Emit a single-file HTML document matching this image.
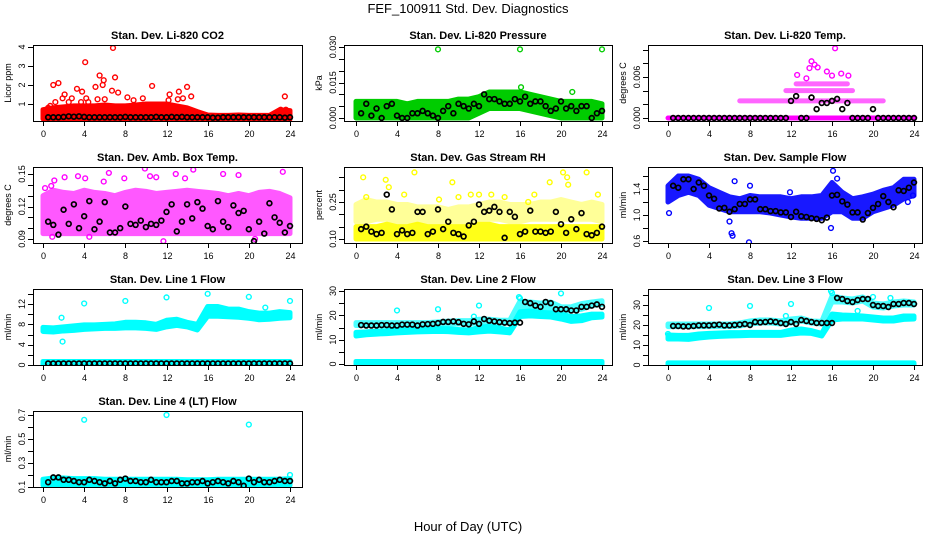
<!DOCTYPE html>
<html><head><meta charset="utf-8"><title>FEF_100911 Std. Dev. Diagnostics</title>
<style>
html,body{margin:0;padding:0;background:#fff;}
svg{display:block;font-family:"Liberation Sans",Arial,sans-serif;}
</style></head>
<body>
<svg id="chart" width="936" height="540" viewBox="0 0 936 540" xmlns="http://www.w3.org/2000/svg">
<text x="468" y="13" text-anchor="middle" font-size="13">FEF_100911  Std. Dev. Diagnostics</text>
<text x="468" y="531" text-anchor="middle" font-size="13">Hour of Day (UTC)</text>
</svg>
<script>
// ---- shared data ----
const hours = [0,1,2,3,4,5,6,7,8,9,10,11,12,13,14,15,16,17,18,19,20,21,22,23,24];
const halfHours = [0.5,1,1.5,2,2.5,3,3.5,4,4.5,5,5.5,6,6.5,7,7.5,8,8.5,9,9.5,10,10.5,11,11.5,12,12.5,13,13.5,14,14.5,15,15.5,16,16.5,17,17.5,18,18.5,19,19.5,20,20.5,21,21.5,22,22.5,23,23.5,24];
const xTicks = [0,4,8,12,16,20,24];

// CO2
const co2BandLo = [0.22,0.22,0.22,0.22,0.22,0.22,0.22,0.22,0.22,0.22,0.22,0.22,0.22,0.22,0.22,0.22,0.2,0.2,0.2,0.2,0.2,0.2,0.2,0.2,0.2];
const co2BandHi = [0.7,0.8,0.85,0.9,0.9,0.9,0.95,0.9,0.9,0.95,1.0,1.0,1.0,0.9,0.8,0.6,0.42,0.4,0.4,0.42,0.4,0.4,0.4,0.7,0.65];
const co2OutX = [0.5,0.7,1,1.2,1.5,1.9,2.1,2.5,2.8,3.3,3.7,3.8,4.1,4.2,4.4,5.1,5.3,5.5,5.8,5.9,6.0,6.7,6.8,7.0,7.3,8.2,8.8,9.7,10.6,12.3,12.2,13.2,13.1,13.6,14.0,14.4,23.1,23.5,23.6];
const co2OutY = [0.8,0.9,2.0,1.1,2.1,1.3,1.5,1.1,1.3,1.8,1.1,1.65,3.2,1.3,1.1,1.9,1.25,2.5,2.0,2.25,1.25,1.7,3.95,2.4,1.6,1.35,1.2,1.3,1.95,1.5,1.2,1.65,1.25,1.3,1.9,1.4,0.7,1.4,0.7];
const co2Black = [0.3,0.3,0.3,0.32,0.35,0.33,0.35,0.32,0.3,0.3,0.3,0.3,0.3,0.3,0.3,0.32,0.3,0.3,0.3,0.3,0.3,0.32,0.3,0.3,0.32,0.3,0.32,0.3,0.3,0.3,0.3,0.3,0.28,0.28,0.3,0.3,0.3,0.3,0.3,0.3,0.3,0.3,0.3,0.3,0.3,0.3,0.28,0.3];

// Pressure
const presBandLo = [0,0,0,0,0,0,0,0,0,0,0,0,0.002,0.004,0.004,0.004,0.004,0.003,0.002,0.001,0,0,0,0,0];
const presBandHi = [0.007,0.007,0.007,0.007,0.007,0.006,0.007,0.007,0.007,0.007,0.008,0.008,0.009,0.011,0.011,0.011,0.011,0.01,0.009,0.008,0.007,0.007,0.007,0.007,0.006];
const presOutX = [8,16,24,16.1,21.1];
const presOutY = [0.029,0.029,0.029,0.013,0.011];
const presBlack = [0.002,0.006,0.001,0.004,0.000,0.005,0.006,0.001,0.000,0.000,0.002,0.002,0.003,0.002,0.001,0.000,0.003,0.005,0.002,0.006,0.005,0.004,0.006,0.005,0.010,0.008,0.008,0.007,0.006,0.006,0.008,0.007,0.009,0.006,0.007,0.007,0.005,0.003,0.004,0.007,0.004,0.005,0.003,0.005,0.005,0.000,0.002,0.003];

// Li-820 temp (quantized levels)
const tempLevels = [0,0.0025,0.004,0.005];
const tempStart = [0,7,11.5,12.5];
const tempEnd = [24,21,18,17.5];
const tempOutX = [12.6,13.8,14.0,14.3,15.5,16.3,16.0,16.9,13.5,14.6,17.6];
const tempOutY = [0.0063,0.0073,0.0083,0.0078,0.0068,0.0102,0.0062,0.0065,0.0058,0.0074,0.0062];
const tempBlack = [0,0,0,0,0,0,0,0,0,0,0,0,0,0,0,0,0,0,0,0,0,0,0,0.0025,0.0032,0,0,0.003,0.0013,0.0022,0.0022,0.0025,0.0028,0.0013,0.0022,0,0,0,0,0.0013,0,0,0,0,0,0,0,0];

// Amb box temp
const ambBandLo = [0.095,0.095,0.095,0.095,0.095,0.095,0.095,0.095,0.095,0.095,0.095,0.095,0.095,0.095,0.095,0.095,0.095,0.095,0.095,0.095,0.095,0.095,0.095,0.095,0.095];
const ambBandHi = [0.13,0.135,0.133,0.132,0.135,0.133,0.132,0.13,0.133,0.135,0.134,0.132,0.133,0.134,0.135,0.134,0.133,0.132,0.13,0.132,0.13,0.133,0.134,0.132,0.128];
const ambOutX = [0.2,0.8,1.1,2.1,3.4,4.1,5.9,6.4,7.9,9.9,10.4,11.0,11.7,12.9,13.8,14.6,17.5,19.0,23.3,0.9,4.5,20.6];
const ambOutY = [0.137,0.139,0.144,0.147,0.148,0.146,0.143,0.151,0.146,0.155,0.148,0.147,0.088,0.15,0.146,0.154,0.15,0.149,0.152,0.092,0.092,0.09];
const ambBlack = [0.106,0.103,0.094,0.117,0.104,0.122,0.10,0.111,0.125,0.099,0.106,0.124,0.096,0.096,0.10,0.12,0.104,0.103,0.107,0.101,0.104,0.103,0.107,0.115,0.122,0.097,0.106,0.122,0.109,0.124,0.118,0.102,0.099,0.125,0.106,0.101,0.121,0.114,0.116,0.099,0.088,0.106,0.095,0.123,0.110,0.105,0.096,0.102];

// Gas stream RH
const rhBandLo = [0.1,0.1,0.1,0.1,0.1,0.1,0.1,0.1,0.1,0.1,0.1,0.1,0.1,0.1,0.1,0.1,0.1,0.1,0.1,0.1,0.1,0.1,0.1,0.1,0.1];
const rhBandHi = [0.15,0.15,0.15,0.16,0.15,0.15,0.16,0.15,0.15,0.15,0.15,0.15,0.16,0.16,0.15,0.15,0.15,0.15,0.15,0.15,0.15,0.15,0.15,0.15,0.15];
const rhSparseLo = [0.17,0.17,0.18,0.18,0.17,0.17,0.17,0.17,0.17,0.17,0.17,0.17,0.18,0.18,0.18,0.17,0.17,0.18,0.18,0.18,0.18,0.18,0.18,0.18,0.17];
const rhSparseHi = [0.24,0.26,0.25,0.25,0.24,0.24,0.23,0.23,0.23,0.22,0.23,0.23,0.24,0.25,0.25,0.24,0.24,0.24,0.25,0.25,0.26,0.25,0.24,0.25,0.24];
const rhOutX = [0.7,2.9,4.7,5.7,9.4,3.2,8.1,10.0,11.2,12.0,13.2,14.5,17.4,18.9,20.2,20.6,20.7,22.5,23.6,1.0,16.8];
const rhOutY = [0.35,0.34,0.28,0.37,0.33,0.31,0.26,0.27,0.28,0.28,0.28,0.27,0.28,0.33,0.37,0.35,0.32,0.37,0.28,0.27,0.25];
const rhBlack = [0.14,0.15,0.13,0.12,0.125,0.28,0.22,0.12,0.135,0.12,0.125,0.21,0.21,0.12,0.13,0.22,0.14,0.17,0.125,0.12,0.11,0.155,0.17,0.24,0.21,0.215,0.23,0.21,0.105,0.21,0.19,0.12,0.13,0.215,0.13,0.13,0.125,0.13,0.21,0.16,0.125,0.18,0.14,0.205,0.12,0.115,0.125,0.15];

// Sample flow
const sampBandLo = [1.2,1.3,1.35,1.3,1.15,1.1,1.05,1.05,1.05,1.05,1.03,1.0,0.97,0.95,0.95,0.95,1.05,1.05,0.95,0.95,1.05,1.1,1.15,1.25,1.3];
const sampBandHi = [1.45,1.6,1.6,1.55,1.42,1.35,1.28,1.25,1.3,1.28,1.28,1.28,1.25,1.28,1.28,1.3,1.5,1.35,1.25,1.28,1.32,1.38,1.42,1.55,1.55];
const sampOutX = [0.1,6.0,6.2,6.3,7.9,8.0,15.9,16.1,16.5,23.4,23.9,6.5,11.9];
const sampOutY = [1.03,0.9,0.72,0.68,0.58,1.45,0.8,1.68,1.56,1.2,1.3,1.52,1.35];
const sampBlack = [1.45,1.42,1.55,1.55,1.4,1.5,1.45,1.3,1.25,1.1,1.11,1.05,1.09,1.17,1.17,1.24,1.24,1.09,1.09,1.06,1.06,1.04,1.04,0.97,1.05,0.98,0.97,0.95,0.94,0.92,0.96,1.3,1.31,1.21,1.16,1.04,1.04,0.93,1.03,1.11,1.17,1.29,1.2,1.12,1.38,1.37,1.42,1.5];

// Line 1
const l1BandLo = [6.6,6.5,6.7,6.8,7.0,7.1,7.2,7.2,7.3,7.3,7.2,7.0,7.5,7.8,7.5,6.9,9.6,9.6,9.5,9.4,9.2,8.9,9.0,9.2,9.3];
const l1BandHi = [7.4,7.3,7.5,7.7,7.9,7.9,8.0,8.1,8.4,8.4,8.3,8.0,8.8,9.0,8.4,8.0,11.5,11.5,11.0,11.0,10.5,10.2,10.2,10.5,10.3];
const l1OutX = [1.8,1.9,4,8,12,16,20,24,21.6];
const l1OutY = [9.3,4.6,12.1,12.6,13.3,14.0,13.4,12.6,11.3];
const l1Black = [0.3,0.3,0.3,0.3,0.3,0.3,0.3,0.3,0.3,0.3,0.3,0.3,0.3,0.3,0.3,0.3,0.3,0.3,0.3,0.3,0.3,0.3,0.3,0.3,0.3,0.3,0.3,0.3,0.3,0.3,0.3,0.3,0.3,0.3,0.3,0.3,0.3,0.3,0.3,0.3,0.3,0.3,0.3,0.3,0.3,0.3,0.3,0.3];
const zeroLo = [0,0,0,0,0,0,0,0,0,0,0,0,0,0,0,0,0,0,0,0,0,0,0,0,0];
const zeroHi = [0.7,0.7,0.7,0.7,0.7,0.7,0.7,0.7,0.7,0.7,0.7,0.7,0.7,0.7,0.7,0.7,0.7,0.7,0.7,0.7,0.7,0.7,0.7,0.7,0.7];

// Line 2
const l2BandLo = [11.5,12.0,12.3,12.5,12.8,13.0,13.2,13.3,13.4,13.3,13.0,12.8,13.2,13.5,13.2,12.8,19.5,19.8,19.5,19.3,18.5,17.5,17.8,19.0,19.3];
const l2BandHi = [13.0,13.2,13.5,13.7,14.0,14.2,14.3,14.5,14.6,14.5,14.2,14.0,15.0,15.5,14.8,14.0,21.5,21.8,21.2,21.0,20.5,19.5,19.8,20.5,20.5];
const l2UpLo = [15.8,15.8,15.8,15.8,15.8,15.8,15.8,15.8,16,16.3,16.5,16.5,17.0,17.0,16.8,16.8,23.5,23.5,22.8,23.0,22.0,22.0,22.5,24.0,24.5];
const l2UpHi = [17.0,17.0,17.0,17.0,17.0,17.0,17.0,17.0,17.3,17.6,17.8,17.8,18.4,18.4,18.0,18.0,25.8,25.5,25.0,25.5,23.5,23.5,24.8,25.5,26.0];
const l2OutX = [4,8,12,16,20,11.5,15.9];
const l2OutY = [22,22.5,24,27,29,19.5,27.5];
const l2Black = [16,15.8,15.8,15.8,16,16,15.8,15.8,16.2,16.2,16.2,15.8,16.3,16.4,16.5,16.8,17.3,17.3,17.5,17.2,16.5,16.3,17.5,16.5,18.5,17.8,17.5,17.2,17.0,16.8,17.0,17.0,25.5,25,24,23.5,25.5,25,22.5,22.5,22.5,22,22,23.5,23.5,24,24.5,23.5];

// Line 3
const l3BandLo = [13.0,13.0,12.8,13.5,14.0,14.3,14.5,14.6,14.8,14.8,14.8,14.8,15.5,16.0,15.8,14.5,22.5,23.0,23.0,23.0,22.5,22.0,22.0,22.8,23.0];
const l3BandHi = [15.0,14.8,14.8,15.5,15.8,16.0,16.2,16.2,16.3,16.3,16.3,16.3,17.5,18.0,17.2,15.8,25.5,25.0,24.8,24.5,24.0,23.5,23.5,24.5,24.5];
const l3UpLo = [19.2,19.2,19.2,19.2,19.2,19.2,19.2,19.5,20.5,21.0,21.0,20.5,21.0,22.0,21.0,20.5,31.5,31.5,31.0,32.0,29.0,28.5,29.5,30.0,30.0];
const l3UpHi = [20.5,20.5,20.5,20.5,20.5,20.5,20.5,21.0,22.0,22.5,22.5,22.0,23.0,23.5,22.0,21.8,34.5,33.5,33.0,34.0,31.0,30.5,31.5,32.0,31.5];
const l3OutX = [4,8,12,16,18.5,20,21.7,0,11.5,15.9];
const l3OutY = [28.5,29.5,30.5,36,27,34,33.5,15.5,24.5,37];
const l3Black = [19.5,19.5,19.3,19.3,19.5,19.8,19.8,19.8,20,20.2,19.8,19.8,20,20.2,20.5,20,21.5,21.3,21.5,21.8,21.5,21,20.5,21.5,20.5,22.5,22,21.5,21,21,21,21,33.5,33,32,31.5,32.5,33,33,30,29.5,29.5,29,30.5,30.5,31,31,30.5];

// Line 4
const l4BandLo = [0.115,0.115,0.115,0.115,0.115,0.115,0.115,0.115,0.115,0.115,0.115,0.115,0.115,0.115,0.115,0.115,0.115,0.115,0.115,0.115,0.115,0.115,0.115,0.115,0.115];
const l4BandHi = [0.165,0.175,0.175,0.17,0.17,0.17,0.165,0.165,0.165,0.165,0.165,0.165,0.165,0.165,0.16,0.16,0.16,0.165,0.165,0.165,0.165,0.165,0.165,0.165,0.17];
const l4OutX = [4,12,20,24];
const l4OutY = [0.66,0.70,0.62,0.20];
const l4Black = [0.14,0.18,0.18,0.16,0.16,0.15,0.14,0.14,0.16,0.15,0.14,0.13,0.15,0.13,0.16,0.17,0.15,0.15,0.14,0.14,0.16,0.14,0.14,0.14,0.15,0.15,0.13,0.13,0.14,0.14,0.15,0.13,0.14,0.15,0.14,0.13,0.15,0.14,0.11,0.17,0.14,0.16,0.14,0.14,0.15,0.16,0.15,0.15];

// ---- layout ----
const NS = 'http://www.w3.org/2000/svg';
const svg = document.getElementById('chart');
const cols = [{bx:33,bw:269,x0:43,x24:290},{bx:344,bw:268,x0:356,x24:602},{bx:648,bw:274,x0:668,x24:914}];
const rowTops = [45,167,289,411];
const BH = 76;

function mk(tag, attrs, parent){
  const e = document.createElementNS(NS, tag);
  for (const k in attrs) e.setAttribute(k, attrs[k]);
  (parent||svg).appendChild(e);
  return e;
}

function panel(p){
  const c = cols[p.col], top = rowTops[p.row], bottom = top + BH;
  const g = mk('g', {});
  
  
  const xs = h => c.x0 + (c.x24 - c.x0) * h / 24;
  const ys = v => p.p0 + (p.p1 - p.p0) * (v - p.v0) / (p.v1 - p.v0);
  const t = mk('text', {x: c.bx + c.bw/2, y: top - 6, 'text-anchor':'middle', 'font-size':11, 'font-weight':'bold'}, g);
  t.textContent = p.title;
  
  
  const cid = 'clip-' + p.name;
  const cp = mk('clipPath', {id: cid}, g);
  mk('rect', {x: c.bx, y: top, width: c.bw, height: BH}, cp);
  const plot = mk('g', {'clip-path': 'url(#' + cid + ')'}, g);
  (p.bands||[]).forEach((b, bi) => {
    let pts = [];
    b.x.forEach((h,i) => pts.push(xs(h) + ',' + ys(b.hi[i])));
    for (let i = b.x.length - 1; i >= 0; i--) pts.push(xs(b.x[i]) + ',' + ys(b.lo[i]));
    const poly = mk('polygon', {points: pts.join(' '), fill: b.color, stroke: b.color, 'stroke-width': 5, 'stroke-linejoin':'round', opacity: b.op||1}, plot);
    
    
  });
  (p.series||[]).forEach(s => {
    s.x.forEach((h,i) => {
      const ci = mk('circle', {cx: xs(h), cy: ys(s.y[i]), r: 2.4, fill:'none', stroke: s.color, 'stroke-width': s.color==='#000000'?1.7:1.4}, plot);
      
      
    });
  });
  const box = mk('rect', {x: c.bx + 0.5, y: top + 0.5, width: c.bw, height: BH, fill:'none', stroke:'#000', 'stroke-width':1}, g);
  
  
  xTicks.forEach(h => {
    const x = Math.round(xs(h)) + 0.5;
    mk('line', {x1:x, x2:x, y1:bottom, y2:bottom+5, stroke:'#000'}, g);
    const tl = mk('text', {x:x, y:bottom+16, 'text-anchor':'middle', 'font-size':9}, g);
    tl.textContent = h;
    
    
  });
  p.yTicks.forEach(v => {
    const y = Math.round(ys(v)) + 0.5;
    mk('line', {x1:c.bx - 5, x2:c.bx, y1:y, y2:y, stroke:'#000'}, g);
  });
  p.yLabels.forEach((lab, i) => {
    const y = ys(p.yLabelVals[i]);
    const tx = c.bx - 8;
    const tl = mk('text', {x:tx, y:y, 'text-anchor':'middle', 'font-size':9, transform:'rotate(-90 ' + tx + ' ' + y + ')'}, g);
    tl.textContent = lab;
    
    
  });
  const yt = top + BH/2, xt = c.bx - 22;
  const ya = mk('text', {x:xt, y:yt, 'text-anchor':'middle', 'font-size':9, transform:'rotate(-90 ' + xt + ' ' + yt + ')'}, g);
  ya.textContent = p.ylab;
  
  
}

const RED='#ff0000', GRN='#00cc00', MAG='#ff00ff', YEL='#ffff00', BLU='#0000ff', CYN='#00ffff', BLK='#000000';

panel({name:'co2', title:'Stan. Dev. Li-820 CO2', col:0,row:0, v0:1,p0:104,v1:4,p1:47, ylab:'Licor ppm',
  yTicks:[1,2,3,4], yLabels:['1','2','3','4'], yLabelVals:[1,2,3,4],
  bands:[{x:hours, lo:co2BandLo, hi:co2BandHi, color:RED}],
  series:[{x:co2OutX,y:co2OutY,color:RED},{x:halfHours,y:co2Black,color:BLK}]});

panel({name:'pressure', title:'Stan. Dev. Li-820 Pressure', col:1,row:0, v0:0,p0:118,v1:0.03,p1:47, ylab:'kPa',
  yTicks:[0,0.005,0.01,0.015,0.02,0.025,0.03], yLabels:['0.000','0.015','0.030'], yLabelVals:[0,0.015,0.03],
  bands:[{x:hours, lo:presBandLo, hi:presBandHi, color:GRN}],
  series:[{x:presOutX,y:presOutY,color:GRN},{x:halfHours,y:presBlack,color:BLK}]});

panel({name:'li820-temp', title:'Stan. Dev. Li-820 Temp.', col:2,row:0, v0:0,p0:118,v1:0.006,p1:77, ylab:'degrees C',
  yTicks:[0,0.002,0.004,0.006,0.008,0.010], yLabels:['0.000','0.006'], yLabelVals:[0,0.006],
  bands: tempLevels.map((lv,i) => ({x:[tempStart[i],tempEnd[i]], lo:[lv,lv], hi:[lv,lv], color:MAG, op: i===0?1:0.6})),
  series:[{x:tempOutX,y:tempOutY,color:MAG},{x:halfHours,y:tempBlack,color:BLK}]});

panel({name:'amb-box-temp', title:'Stan. Dev. Amb. Box Temp.', col:0,row:1, v0:0.09,p0:239,v1:0.15,p1:174, ylab:'degrees C',
  yTicks:[0.09,0.10,0.11,0.12,0.13,0.14,0.15], yLabels:['0.09','0.12','0.15'], yLabelVals:[0.09,0.12,0.15],
  bands:[{x:hours, lo:ambBandLo, hi:ambBandHi, color:MAG, op:0.65}],
  series:[{x:ambOutX,y:ambOutY,color:MAG},{x:halfHours,y:ambBlack,color:BLK}]});

panel({name:'gas-stream-rh', title:'Stan. Dev. Gas Stream RH', col:1,row:1, v0:0.10,p0:239,v1:0.25,p1:202, ylab:'percent',
  yTicks:[0.10,0.15,0.20,0.25,0.30,0.35], yLabels:['0.10','0.25'], yLabelVals:[0.10,0.25],
  bands:[{x:hours, lo:rhSparseLo, hi:rhSparseHi, color:YEL, op:0.4},{x:hours, lo:rhBandLo, hi:rhBandHi, color:YEL, op:0.9}],
  series:[{x:rhOutX,y:rhOutY,color:YEL},{x:halfHours,y:rhBlack,color:BLK}]});

panel({name:'sample-flow', title:'Stan. Dev. Sample Flow', col:2,row:1, v0:0.6,p0:241,v1:1.4,p1:189, ylab:'ml/min',
  yTicks:[0.6,0.8,1.0,1.2,1.4,1.6], yLabels:['0.6','1.0','1.4'], yLabelVals:[0.6,1.0,1.4],
  bands:[{x:hours, lo:sampBandLo, hi:sampBandHi, color:BLU, op:0.9}],
  series:[{x:sampOutX,y:sampOutY,color:BLU},{x:halfHours,y:sampBlack,color:BLK}]});

panel({name:'line1-flow', title:'Stan. Dev. Line 1 Flow', col:0,row:2, v0:0,p0:365,v1:12,p1:304, ylab:'ml/min',
  yTicks:[0,2,4,6,8,10,12,14], yLabels:['0','4','8','12'], yLabelVals:[0,4,8,12],
  bands:[{x:hours, lo:l1BandLo, hi:l1BandHi, color:CYN},{x:hours, lo:zeroLo, hi:zeroHi, color:CYN}],
  series:[{x:l1OutX,y:l1OutY,color:CYN},{x:halfHours,y:l1Black,color:BLK}]});

panel({name:'line2-flow', title:'Stan. Dev. Line 2 Flow', col:1,row:2, v0:0,p0:364,v1:30,p1:291, ylab:'ml/min',
  yTicks:[0,5,10,15,20,25,30], yLabels:['0','10','20','30'], yLabelVals:[0,10,20,30],
  bands:[{x:hours, lo:l2UpLo, hi:l2UpHi, color:CYN, op:0.7},{x:hours, lo:l2BandLo, hi:l2BandHi, color:CYN},{x:hours, lo:zeroLo, hi:zeroHi.map(v=>v*1.5), color:CYN}],
  series:[{x:l2OutX,y:l2OutY,color:CYN},{x:halfHours,y:l2Black,color:BLK}]});

panel({name:'line3-flow', title:'Stan. Dev. Line 3 Flow', col:2,row:2, v0:0,p0:365,v1:30,p1:305, ylab:'ml/min',
  yTicks:[0,5,10,15,20,25,30,35], yLabels:['0','10','20','30'], yLabelVals:[0,10,20,30],
  bands:[{x:hours, lo:l3UpLo, hi:l3UpHi, color:CYN, op:0.7},{x:hours, lo:l3BandLo, hi:l3BandHi, color:CYN},{x:hours, lo:zeroLo, hi:zeroHi.map(v=>v*1.5), color:CYN}],
  series:[{x:l3OutX,y:l3OutY,color:CYN},{x:halfHours,y:l3Black,color:BLK}]});

panel({name:'line4-flow', title:'Stan. Dev. Line 4 (LT) Flow', col:0,row:3, v0:0.1,p0:487,v1:0.7,p1:415, ylab:'ml/min',
  yTicks:[0.1,0.2,0.3,0.4,0.5,0.6,0.7], yLabels:['0.1','0.3','0.5','0.7'], yLabelVals:[0.1,0.3,0.5,0.7],
  bands:[{x:hours, lo:l4BandLo, hi:l4BandHi, color:CYN}],
  series:[{x:l4OutX,y:l4OutY,color:CYN},{x:halfHours,y:l4Black,color:BLK}]});
</script>
</body></html>
